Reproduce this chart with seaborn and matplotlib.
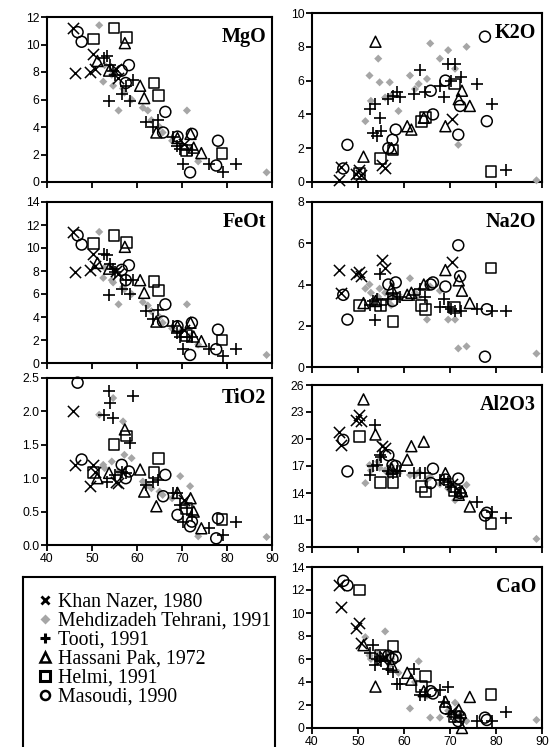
import numpy as np
import pandas as pd
import matplotlib
matplotlib.use("Agg")
import matplotlib.pyplot as plt
from matplotlib.lines import Line2D
import seaborn as sns

# ---------------- data ----------------
SOURCES = ["Khan Nazer, 1980", "Mehdizadeh Tehrani, 1991", "Tooti, 1991",
           "Hassani Pak, 1972", "Helmi, 1991", "Masoudi, 1990"]

# Khan Nazer, 1980
KN_SiO2 = [45.8, 46.2, 49.6, 50.2, 50.6, 55.3, 55.8, 70.5]
KN_MgO = [11.2, 7.9, 8.0, 9.3, 8.2, 8.2, 7.6, 2.8]
KN_FeOt = [11.4, 7.9, 8.1, 9.5, 8.4, 8.0, 7.7, 2.9]
KN_TiO2 = [2.0, 1.2, 0.88, 1.2, 1.1, 0.95, 0.93, 0.68]
KN_K2O = [0.1, 0.9, 0.5, 0.7, 0.4, 1.0, 0.8, 3.7]
KN_Na2O = [4.7, 3.6, 4.5, 4.6, 4.4, 5.2, 4.8, 5.1]
KN_Al2O3 = [20.8, 19.3, 22.1, 22.7, 22.0, 19.2, 19.0, 15.0]
KN_CaO = [12.4, 10.5, 8.7, 9.1, 7.4, 6.0, 6.2, 1.5]

# Mehdizadeh Tehrani, 1991
MT_SiO2 = [51.6, 52.5, 52.8, 54.4, 54.7, 55.9, 56.9, 57.2, 58.8, 61.3,
           62.4, 63.2, 65.0, 65.7, 67.8, 69.6, 71.1, 71.8, 73.6, 88.8]
MT_MgO = [11.4, 7.3, 8.5, 7.8, 7.0, 5.2, 6.8, 6.5, 6.0, 5.4,
          5.2, 4.5, 4.0, 3.6, 3.0, 2.8, 5.2, 2.4, 1.5, 0.7]
MT_FeOt = [11.4, 7.4, 8.3, 7.2, 7.0, 5.1, 6.6, 6.4, 6.0, 5.3,
           5.0, 4.5, 4.0, 3.5, 3.0, 2.7, 5.1, 2.3, 1.6, 0.7]
MT_TiO2 = [1.95, 1.2, 1.15, 1.25, 2.2, 1.1, 1.85, 1.35, 1.3, 0.95,
           0.9, 0.85, 0.8, 0.75, 0.7, 1.03, 0.6, 0.88, 0.13, 0.12]
MT_K2O = [3.6, 6.3, 4.8, 7.3, 5.9, 5.0, 5.9, 5.1, 4.2, 6.3,
          5.5, 5.8, 6.1, 8.2, 7.3, 7.8, 6.7, 2.2, 8.0, 0.1]
MT_Na2O = [3.8, 4.0, 3.6, 3.4, 3.8, 3.6, 3.3, 3.0, 3.5, 4.3,
           3.6, 3.4, 2.3, 3.9, 3.7, 2.3, 2.3, 0.9, 1.0, 0.65]
MT_Al2O3 = [15.1, 17.1, 16.5, 17.5, 16.8, 16.5, 16.0, 17.0, 16.2, 16.0,
            16.0, 16.3, 15.5, 15.8, 15.0, 14.5, 13.2, 14.0, 14.9, 8.9]
MT_CaO = [7.9, 6.3, 6.0, 6.5, 6.0, 8.4, 5.5, 6.0, 4.8, 1.7,
          4.0, 5.8, 2.8, 0.9, 0.9, 1.5, 2.2, 1.0, 0.6, 0.7]

# Tooti, 1991
TO_SiO2 = [52.6, 53.3, 53.8, 54.1, 54.7, 55.1, 56.6, 57.6, 58.5, 59.2, 62.1,
           63.5, 64.6, 67.9, 68.8, 69.6, 70.3, 71.0, 72.3, 75.9, 79.2, 82.1]
TO_MgO = [9.0, 9.2, 5.9, 8.5, 8.1, 7.8, 6.4, 7.0, 5.9, 7.4, 4.4,
          4.0, 4.5, 3.3, 2.6, 2.4, 1.3, 2.3, 2.3, 1.3, 0.7, 1.3]
TO_FeOt = [9.5, 9.4, 5.9, 8.6, 8.2, 7.9, 6.4, 7.2, 6.0, 7.2, 4.5,
           3.8, 4.6, 3.2, 2.6, 2.3, 1.2, 2.3, 2.3, 1.2, 0.6, 1.2]
TO_TiO2 = [1.95, 0.95, 2.3, 2.13, 1.9, 1.05, 1.1, 1.08, 1.52, 2.23, 0.9,
           0.95, 0.98, 0.78, 0.78, 0.6, 0.35, 0.55, 0.45, 0.25, 0.15, 0.35]
TO_K2O = [4.3, 2.9, 4.6, 2.7, 3.8, 3.0, 4.9, 5.1, 5.3, 5.0, 5.2,
          6.6, 5.3, 5.7, 5.0, 7.0, 6.0, 7.0, 6.2, 5.8, 4.6, 0.7]
TO_Na2O = [3.0, 3.2, 2.3, 3.3, 4.5, 3.0, 3.3, 3.6, 3.3, 3.4, 3.5,
           3.8, 3.4, 2.9, 3.3, 2.9, 2.8, 2.7, 2.7, 2.8, 2.7, 2.7]
TO_Al2O3 = [16.0, 17.0, 21.6, 17.1, 18.2, 18.0, 16.5, 16.2, 16.4, 16.4, 16.2,
            16.2, 16.2, 15.4, 15.4, 15.2, 14.7, 14.1, 14.0, 13.0, 11.9, 11.2]
TO_CaO = [6.5, 7.2, 5.5, 6.0, 6.2, 5.8, 5.1, 4.9, 3.8, 3.8, 5.1,
          2.9, 2.9, 3.3, 2.3, 3.6, 1.2, 1.0, 0.9, 0.6, 0.6, 1.4]

# Hassani Pak, 1972
HP_SiO2 = [51.2, 53.8, 57.3, 60.7, 61.6, 64.3, 69.0, 71.9, 72.6, 74.3]
HP_MgO = [8.8, 8.1, 10.1, 7.0, 6.1, 3.6, 3.2, 3.5, 2.5, 2.1]
HP_FeOt = [8.7, 8.2, 10.1, 7.2, 6.1, 3.6, 3.2, 3.5, 2.3, 1.9]
HP_TiO2 = [1.0, 1.08, 1.73, 1.13, 0.8, 0.58, 0.78, 0.7, 0.5, 0.25]
HP_K2O = [1.5, 8.3, 2.0, 3.3, 3.1, 3.8, 3.3, 4.9, 5.4, 4.5]
HP_Na2O = [3.1, 3.2, 3.8, 3.5, 3.6, 4.0, 4.7, 4.2, 3.7, 3.1]
HP_Al2O3 = [24.4, 20.5, 16.7, 17.7, 19.2, 19.7, 16.2, 13.8, 14.2, 12.5]
HP_CaO = [7.2, 3.6, 5.5, 4.8, 4.2, 3.2, 2.3, 1.6, 0.0, 2.7]

# Helmi, 1991
HE_SiO2 = [50.3, 54.9, 57.6, 63.8, 64.7, 71.0, 78.9]
HE_MgO = [10.4, 11.2, 10.5, 7.2, 6.3, 2.3, 2.1]
HE_FeOt = [10.4, 11.1, 10.5, 7.1, 6.3, 2.4, 2.0]
HE_TiO2 = [1.08, 1.5, 1.63, 1.08, 1.3, 0.55, 0.38]
HE_K2O = [0.5, 1.4, 1.9, 3.6, 3.8, 5.8, 0.6]
HE_Na2O = [3.0, 3.0, 2.2, 3.0, 2.8, 2.9, 4.8]
HE_Al2O3 = [20.3, 15.2, 15.2, 14.7, 14.1, 14.3, 10.6]
HE_CaO = [12.0, 6.3, 7.1, 3.6, 4.5, 1.0, 2.9]

# Masoudi, 1990
MA_SiO2 = [46.8, 47.7, 56.6, 57.5, 58.2, 65.8, 66.3, 69.0, 71.8, 72.2, 77.6, 78.0]
MA_MgO = [10.9, 10.2, 8.1, 7.2, 8.5, 3.6, 5.1, 3.3, 0.7, 3.5, 1.2, 3.0]
MA_FeOt = [11.1, 10.3, 8.1, 7.2, 8.5, 3.6, 5.1, 3.2, 0.7, 3.5, 1.2, 2.9]
MA_TiO2 = [2.43, 1.28, 1.2, 1.0, 1.1, 0.73, 1.05, 0.45, 0.28, 0.35, 0.1, 0.4]
MA_K2O = [0.8, 2.2, 2.0, 2.5, 3.1, 5.4, 4.0, 6.0, 2.8, 4.5, 8.6, 3.6]
MA_Na2O = [3.5, 2.3, 4.0, 3.2, 4.1, 4.0, 4.1, 3.9, 5.9, 4.4, 0.5, 2.8]
MA_Al2O3 = [19.9, 16.4, 18.2, 17.1, 17.0, 15.1, 16.7, 15.5, 15.6, 14.0, 11.5, 11.8]
MA_CaO = [12.8, 12.4, 6.3, 6.0, 6.2, 3.2, 3.0, 1.7, 0.6, 1.0, 0.9, 0.7]

X_TICKS = [40, 50, 60, 70, 80, 90]

# ---------------- assemble ----------------
OXIDES = ["MgO", "FeOt", "TiO2", "K2O", "Na2O", "Al2O3", "CaO"]
raw = {
    SOURCES[0]: (KN_SiO2, [KN_MgO, KN_FeOt, KN_TiO2, KN_K2O, KN_Na2O, KN_Al2O3, KN_CaO]),
    SOURCES[1]: (MT_SiO2, [MT_MgO, MT_FeOt, MT_TiO2, MT_K2O, MT_Na2O, MT_Al2O3, MT_CaO]),
    SOURCES[2]: (TO_SiO2, [TO_MgO, TO_FeOt, TO_TiO2, TO_K2O, TO_Na2O, TO_Al2O3, TO_CaO]),
    SOURCES[3]: (HP_SiO2, [HP_MgO, HP_FeOt, HP_TiO2, HP_K2O, HP_Na2O, HP_Al2O3, HP_CaO]),
    SOURCES[4]: (HE_SiO2, [HE_MgO, HE_FeOt, HE_TiO2, HE_K2O, HE_Na2O, HE_Al2O3, HE_CaO]),
    SOURCES[5]: (MA_SiO2, [MA_MgO, MA_FeOt, MA_TiO2, MA_K2O, MA_Na2O, MA_Al2O3, MA_CaO]),
}
frames = []
for src, (si, vals) in raw.items():
    d = {"source": src, "SiO2": si}
    for ox, v in zip(OXIDES, vals):
        d[ox] = v
    frames.append(pd.DataFrame(d))
df = pd.concat(frames, ignore_index=True)

# ---------------- style ----------------
sns.set_theme(style="white")
plt.rcParams["font.family"] = ["Liberation Sans", "DejaVu Sans"]
plt.rcParams["axes.linewidth"] = 1.5
plt.rcParams["text.color"] = "black"
plt.rcParams["xtick.color"] = "black"
plt.rcParams["ytick.color"] = "black"

STYLE = {
    SOURCES[0]: dict(marker="x", s=65, color="black", linewidth=1.1),
    SOURCES[1]: dict(marker="D", s=17, color="#a6a6a6", edgecolor="none", linewidth=0),
    SOURCES[2]: dict(marker="+", s=85, color="black", linewidth=1.2),
    SOURCES[3]: dict(marker="^", s=62, facecolor="none", edgecolor="black", linewidth=1.1),
    SOURCES[4]: dict(marker="s", s=60, facecolor="none", edgecolor="black", linewidth=1.1),
    SOURCES[5]: dict(marker="o", s=62, facecolor="none", edgecolor="black", linewidth=1.1),
}
ORDER = [SOURCES[1], SOURCES[0], SOURCES[2], SOURCES[3], SOURCES[4], SOURCES[5]]

W, H = 549, 747
fig = plt.figure(figsize=(W / 100, H / 100), dpi=100)


def px_axes(x0, y0, x1, y1):
    return fig.add_axes([x0 / W, 1 - y1 / H, (x1 - x0) / W, (y1 - y0) / H])


PANELS = [
    # oxide, title, box(px), ylim, yticks, fmt, xlabels
    ("MgO", "MgO", (47, 17, 272, 182), (0, 12), np.arange(0, 13, 2), "%d", False),
    ("FeOt", "FeOt", (47, 202, 272, 363), (0, 14), np.arange(0, 15, 2), "%d", False),
    ("TiO2", "TiO2", (47, 378, 272, 545), (0, 2.5), np.arange(0, 2.51, 0.5), "%.1f", True),
    ("K2O", "K2O", (312, 13, 542, 182), (0, 10), np.arange(0, 11, 2), "%d", False),
    ("Na2O", "Na2O", (312, 202, 542, 367), (0, 8), np.arange(0, 9, 2), "%d", False),
    ("Al2O3", "Al2O3", (312, 385, 542, 547), (8, 26), np.arange(8, 27, 3), "%d", False),
    ("CaO", "CaO", (312, 567, 542, 728), (0, 14), np.arange(0, 15, 2), "%d", True),
]

for ox, title, box, ylim, yticks, fmt, xlab in PANELS:
    ax = px_axes(*box)
    for src in ORDER:
        sub = df[df["source"] == src]
        sns.scatterplot(data=sub, x="SiO2", y=ox, ax=ax, legend=False,
                        zorder=3, clip_on=False, **STYLE[src])
    ax.set_xlim(40, 90)
    ax.set_ylim(*ylim)
    ax.set_xticks(X_TICKS)
    ax.set_yticks(yticks)
    ax.set_yticklabels([fmt % v for v in yticks])
    if not xlab:
        ax.set_xticklabels([])
    ax.set_xlabel("")
    ax.set_ylabel("")
    ax.tick_params(axis="both", direction="out", length=4, width=1.3,
                   labelsize=8.8, colors="black", pad=1.5,
                   bottom=True, left=True)
    for sp in ax.spines.values():
        sp.set_color("black")
        sp.set_linewidth(1.5)
    ax.text(0.975, 0.94, title, transform=ax.transAxes, ha="right", va="top",
            fontsize=14.5, fontweight="bold", family="Liberation Serif",
            color="black", zorder=5)

# ---------------- legend box ----------------
lax = px_axes(23, 577, 275, 770)
lax.set_xticks([])
lax.set_yticks([])
for sp in lax.spines.values():
    sp.set_color("black")
    sp.set_linewidth(1.5)
lax.patch.set_alpha(0)

handles = [
    Line2D([], [], linestyle="none", marker="x", markersize=6, mew=2, color="black"),
    Line2D([], [], linestyle="none", marker="D", markersize=5, color="#a6a6a6", mec="none"),
    Line2D([], [], linestyle="none", marker="+", markersize=7, mew=2.2, color="black"),
    Line2D([], [], linestyle="none", marker="^", markersize=6.5, mew=1.8, mfc="none", mec="black"),
    Line2D([], [], linestyle="none", marker="s", markersize=6.5, mew=2.2, mfc="none", mec="black"),
    Line2D([], [], linestyle="none", marker="o", markersize=6.5, mew=1.8, mfc="none", mec="black"),
]
leg = lax.legend(handles, SOURCES, loc="upper left", bbox_to_anchor=(0.0, 1.0),
                 frameon=False, prop={"family": "Liberation Serif", "size": 14.3},
                 handlelength=0.6, handletextpad=0.35, labelspacing=0.0,
                 borderaxespad=0.3, borderpad=0.5, labelcolor="black")

fig.savefig("out.png", dpi=100)
